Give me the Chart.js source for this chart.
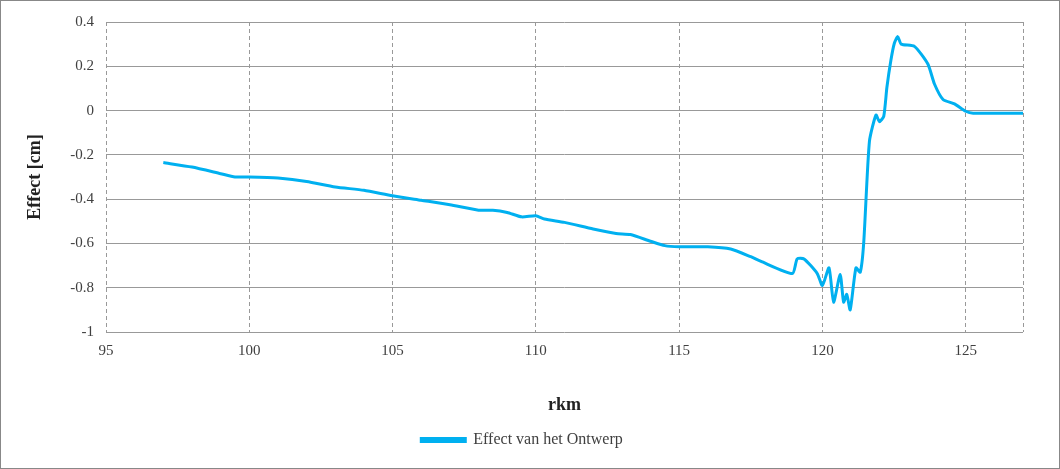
<!DOCTYPE html>
<html><head><meta charset="utf-8">
<script src="https://cdn.jsdelivr.net/npm/chart.js@4/dist/chart.umd.min.js"></script>
<style>html,body{margin:0;padding:0;background:#fff}#wrap{width:1058px;height:467px;border:1px solid #888;position:relative}</style>
</head><body><div id="wrap"><canvas id="c"></canvas></div>
<script>
const rkm = [97,98,99,99.5,100,101,102,103,104,105,106,107,108,108.5,109,109.5,110,110.3,111,112,112.8,113.3,114,114.5,115,116,116.8,117.5,117.84,118.95,119.12,119.36,119.82,120.0,120.23,120.39,120.62,120.74,120.85,120.97,121.17,121.32,121.44,121.64,121.87,121.99,122.14,122.25,122.39,122.51,122.63,122.75,123.21,123.68,123.91,124.21,124.61,125.0,125.26,127.0];
const effect = [-0.235,-0.255,-0.285,-0.3,-0.3,-0.305,-0.32,-0.345,-0.36,-0.385,-0.405,-0.425,-0.45,-0.45,-0.46,-0.48,-0.475,-0.49,-0.505,-0.535,-0.555,-0.56,-0.59,-0.61,-0.615,-0.615,-0.625,-0.66,-0.68,-0.736,-0.67,-0.67,-0.736,-0.79,-0.71,-0.865,-0.74,-0.865,-0.83,-0.9,-0.71,-0.73,-0.6,-0.14,-0.02,-0.05,-0.026,0.104,0.227,0.304,0.334,0.3,0.29,0.21,0.12,0.05,0.03,-0.003,-0.012,-0.012];
const seriesName = 'Effect van het Ontwerp';
new Chart(document.getElementById('c'), {
  type: 'line',
  data: { datasets: [{ label: seriesName, data: rkm.map((x,i)=>({x, y: effect[i]})), borderColor:'#00b0f0', backgroundColor:'#00b0f0', borderWidth:3, pointRadius:0, tension:0.2 }] },
  options: {
    responsive:true, maintainAspectRatio:false, animation:false,
    layout:{padding:{left:20,right:36,top:21,bottom:10}},
    plugins:{ legend:{position:'bottom', labels:{font:{family:'Liberation Serif',size:16}, color:'#404040', boxWidth:44, boxHeight:3, padding:12}}, tooltip:{enabled:false}},
    scales:{
      x:{type:'linear', min:95, max:127, afterFit:s=>{s.height=88;},
         ticks:{stepSize:5, padding:10, font:{family:'Liberation Serif',size:15}, color:'#404040', callback:v=>v===127?'':v},
         grid:{color:'#999', drawTicks:false}, border:{dash:[4,3], display:false},
         title:{display:true,text:'rkm',padding:{top:12},font:{family:'Liberation Serif',size:18,weight:'bold'},color:'#222'}},
      y:{min:-1, max:0.4, afterFit:s=>{s.width=85;},
         ticks:{stepSize:0.2, padding:12, font:{family:'Liberation Serif',size:15}, color:'#404040', callback:v=>Math.round(v*10)/10}, grid:{color:'#999', drawTicks:false}, border:{display:false},
         title:{display:true,text:'Effect [cm]',font:{family:'Liberation Serif',size:18,weight:'bold'},color:'#222'}}
    }
  }
});
</script></body></html>
